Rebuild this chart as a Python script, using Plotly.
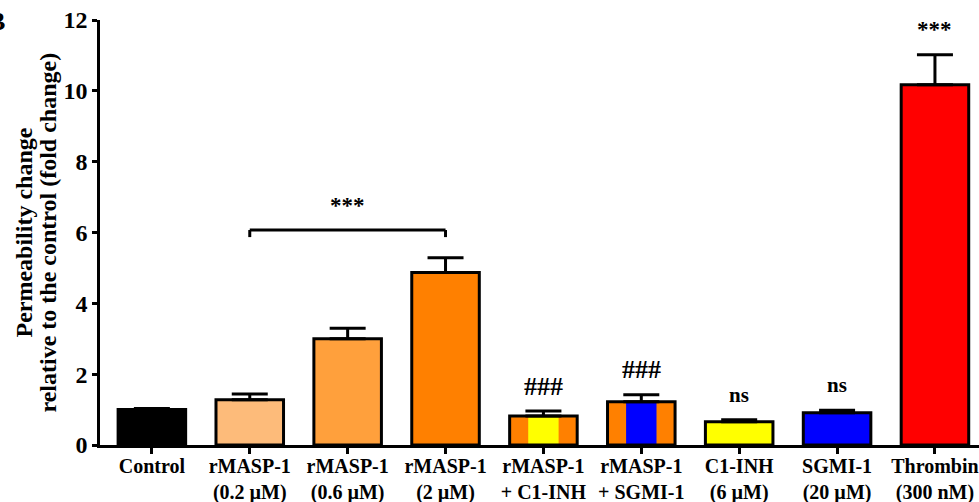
import plotly.graph_objects as go

# ---- data ----
labels = ["Control", "rMASP-1<br>(0.2 µM)", "rMASP-1<br>(0.6 µM)", "rMASP-1<br>(2 µM)",
          "rMASP-1<br>+ C1-INH", "rMASP-1<br>+ SGMI-1", "C1-INH<br>(6 µM)",
          "SGMI-1<br>(20 µM)", "Thrombin<br>(300 nM)"]
means = [1.0, 1.28, 3.0, 4.87, 0.82, 1.22, 0.66, 0.91, 10.17]
sem = [0.03, 0.16, 0.30, 0.42, 0.14, 0.20, 0.05, 0.07, 0.85]
fill_colors = ["#000000", "#FDBB7A", "#FFA03C", "#FF8000", "#FF8000", "#FF8000",
               "#FFFF00", "#0000FF", "#FF0000"]
stripe_idx = [4, 5]
stripe_colors = ["#FFFF00", "#0000FF"]
sig_text = ["###", "###", "ns", "ns", "***"]
sig_idx = [4, 5, 6, 7, 8]
sig_y = [1.64, 2.12, 1.41, 1.69, 11.72]
bracket_from, bracket_to = 1, 3
bracket_y, bracket_drop = 6.07, 5.87
bracket_label, bracket_label_y = "***", 6.75
y_ticks = [0, 2, 4, 6, 8, 10, 12]
y_title_lines = ["Permeability change", "relative to the control (fold change)"]

x = list(range(len(labels)))
FONT = "Liberation Serif"
BW = 0.69
W, H = 979, 502
L, R, T, B = 100, 0, 20, 57
pw = W - L - R

fig = go.Figure()
# fills
fig.add_trace(go.Bar(x=x, y=means, width=BW, marker=dict(color=fill_colors, line=dict(width=0)),
                     showlegend=False, hoverinfo="skip"))
# inner stripes
fig.add_trace(go.Bar(x=stripe_idx, y=[means[i] for i in stripe_idx], width=BW * 0.45,
                     marker=dict(color=stripe_colors, line=dict(width=0)),
                     showlegend=False, hoverinfo="skip"))
# outlines + error bars
fig.add_trace(go.Bar(x=x, y=means, width=BW,
                     marker=dict(color="rgba(0,0,0,0)", line=dict(color="black", width=3)),
                     error_y=dict(type="data", array=sem, arrayminus=[0] * len(sem), symmetric=False,
                                  color="black", thickness=3, width=18),
                     showlegend=False))

# significance labels
for t, i, yv in zip(sig_text, sig_idx, sig_y):
    size = {"###": 26, "ns": 21, "***": 23}[t]
    fig.add_annotation(x=i, y=yv, text=t, showarrow=False, yanchor="middle",
                       font=dict(family=FONT, size=size, color="black", weight="bold"))

# bracket
fig.add_shape(type="line", x0=bracket_from, x1=bracket_to, y0=bracket_y, y1=bracket_y,
              line=dict(color="black", width=3))
fig.add_shape(type="line", x0=bracket_from, x1=bracket_from, y0=bracket_y, y1=bracket_drop,
              line=dict(color="black", width=3))
fig.add_shape(type="line", x0=bracket_to, x1=bracket_to, y0=bracket_y, y1=bracket_drop,
              line=dict(color="black", width=3))
fig.add_annotation(x=(bracket_from + bracket_to) / 2, y=bracket_label_y, text=bracket_label,
                   showarrow=False, yanchor="middle",
                   font=dict(family=FONT, size=23, color="black", weight="bold"))

# y-axis title as two rotated lines
for line, px in zip(y_title_lines, [23, 47]):
    fig.add_annotation(xref="paper", yref="paper", x=(px - L) / pw, y=0.5,
                       xanchor="center", yanchor="middle", textangle=-90, text=line,
                       showarrow=False,
                       font=dict(family=FONT, size=24, color="black", weight="bold"))

# panel letter (cut off at the edge)
fig.add_annotation(xref="paper", yref="paper", x=(7 - L) / pw, y=1.035, xanchor="right",
                   yanchor="top", text="B", showarrow=False,
                   font=dict(family=FONT, size=26, color="black", weight="bold"))

fig.update_layout(
    width=W, height=H,
    margin=dict(l=L, r=R, t=T, b=B),
    paper_bgcolor="white", plot_bgcolor="white",
    barmode="overlay",
    font=dict(family=FONT, color="black", weight="bold"),
    xaxis=dict(range=[-0.53, 8.45], tickvals=x, ticktext=labels, showline=True, linecolor="black",
               linewidth=2.5, ticks="outside", ticklen=6, tickwidth=2.5, tickcolor="black",
               showgrid=False, zeroline=False, automargin=False, ticklabelstandoff=-5,
               ticklabeloverflow="allow",
               tickfont=dict(family=FONT, size=20, color="black", weight="bold")),
    yaxis=dict(range=[0, 12], tickvals=y_ticks, showline=True, linecolor="black", linewidth=2.5,
               ticks="outside", ticklen=5, tickwidth=2.5, tickcolor="black", showgrid=False,
               zeroline=False, automargin=False, ticklabeloverflow="allow",
               tickfont=dict(family=FONT, size=24, color="black", weight="bold")),
)

# remove the default page margin so the figure fills the window exactly
fig.write_html("out.html", config={"displayModeBar": False},
               post_script="document.body.style.margin='0px';")
